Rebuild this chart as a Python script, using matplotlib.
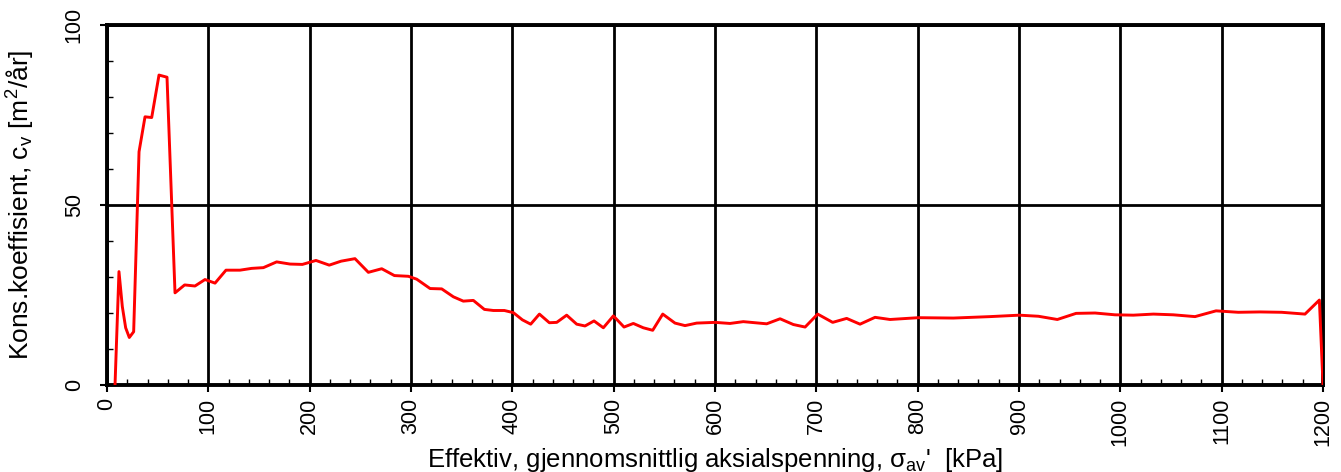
import matplotlib.pyplot as plt
from matplotlib.ticker import MultipleLocator

plt.rcParams['font.family'] = ['Liberation Sans', 'DejaVu Sans']
plt.rcParams['mathtext.default'] = 'regular'

# effektiv aksialspenning [kPa] og konsolideringskoeffisient cv [m2/aar]
sigma = [7.9, 11.8, 15.1, 18.4, 22.0, 26.3, 31.6, 37.5, 44.1, 51.3, 59.2, 67.1,
         76.6, 86.8, 96.7, 106.6, 117.4, 131.2, 142.8, 154.3, 167.4, 180.6, 192.8,
         206.2, 219.3, 231.0, 244.7, 257.9, 271.1, 283.6, 297.4, 305.6, 318.8,
         330.3, 341.8, 351.6, 361.5, 372.4, 381.3, 392.1, 401.0, 409.9, 418.1,
         426.7, 436.5, 443.8, 453.6, 463.5, 471.7, 480.6, 489.8, 499.7, 510.2,
         519.4, 529.2, 538.5, 548.4, 560.5, 570.4, 581.9, 600.0, 614.8, 627.9,
         651.0, 664.2, 677.3, 688.9, 701.3, 716.1, 729.9, 743.1, 757.9, 772.7,
         800.7, 835.2, 871.4, 900.3, 919.1, 937.8, 956.3, 975.0, 994.7, 1012.8,
         1032.6, 1052.3, 1073.7, 1094.4, 1116.4, 1137.8, 1159.2, 1182.2, 1196.4,
         1200.0]
cv = [0.0, 31.5, 21.8, 15.9, 13.2, 14.8, 64.8, 74.5, 74.3, 86.1, 85.5, 25.6,
      27.8, 27.5, 29.3, 28.3, 31.9, 31.9, 32.4, 32.6, 34.2, 33.6, 33.5,
      34.6, 33.3, 34.4, 35.1, 31.3, 32.3, 30.4, 30.2, 29.4, 26.8,
      26.7, 24.5, 23.3, 23.5, 21.0, 20.7, 20.7, 20.1, 18.1, 16.9,
      19.7, 17.3, 17.4, 19.4, 16.9, 16.4, 17.8, 15.9, 19.2, 16.1,
      17.1, 15.9, 15.2, 19.7, 17.2, 16.5, 17.2, 17.4, 17.1, 17.6,
      17.0, 18.4, 16.8, 16.1, 19.7, 17.4, 18.5, 16.9, 18.8, 18.2,
      18.7, 18.6, 19.0, 19.4, 19.1, 18.2, 19.9, 20.0, 19.5, 19.4,
      19.7, 19.5, 19.0, 20.6, 20.2, 20.3, 20.2, 19.7, 23.6,
      0.0]

fig = plt.figure(figsize=(13.41, 4.72), dpi=100)
ax = fig.add_axes([0.0798, 0.1843, 0.9068, 0.7627])

ax.plot(sigma, cv, color='red', lw=2.1, zorder=3)

ax.set_xlim(0, 1200)
ax.set_ylim(0, 100)
ax.xaxis.set_major_locator(MultipleLocator(100))
ax.xaxis.set_minor_locator(MultipleLocator(20))
ax.yaxis.set_major_locator(MultipleLocator(50))
ax.yaxis.set_minor_locator(MultipleLocator(10))

ax.grid(True, which='major', color='black', lw=2.0)
ax.tick_params(which='major', direction='out', length=5, width=1.5, labelsize=15.5)
ax.tick_params(which='minor', direction='in', length=4, width=1)
ax.tick_params(axis='x', labelrotation=90, pad=4)
ax.tick_params(axis='y', labelrotation=90, pad=11)
for lab in ax.get_yticklabels():
    lab.set_va('center')

for sp in ax.spines.values():
    sp.set_linewidth(2.8)

ax.set_xlabel("Effektiv, gjennomsnittlig aksialspenning, σ$_{av}$'  [kPa]", fontsize=18.5, labelpad=0)
ax.set_ylabel('Kons.koeffisient, c$_v$ [m$^2$/år]', fontsize=19, labelpad=19)

fig.savefig('out.png', dpi=100)
